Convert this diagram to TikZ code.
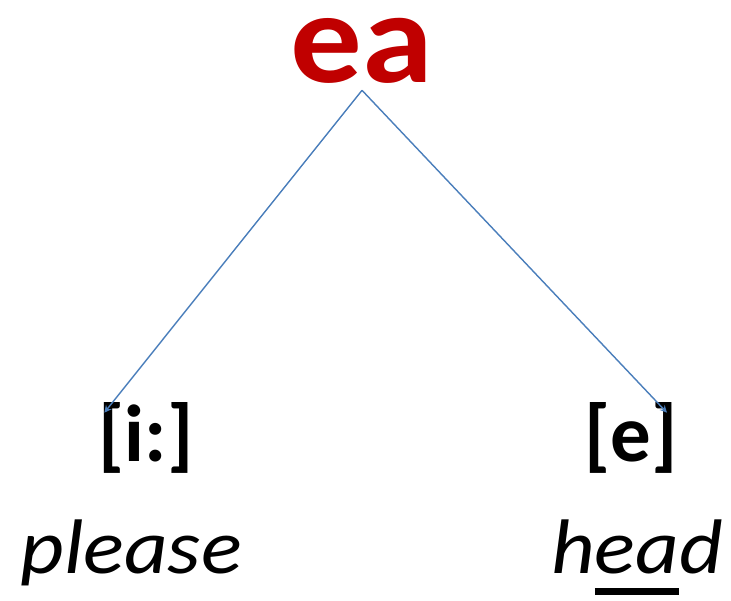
\documentclass[tikz,border=0pt]{standalone}
\usepackage{fontspec}
\setmainfont{Carlito}
\newfontfamily\widefont[FakeStretch=1.1]{Carlito}
\usepackage{tikz}
\definecolor{eared}{HTML}{C00000}
\definecolor{arrowblue}{HTML}{4A7EBB}
\newcommand{\thickul}[1]{\setbox0\hbox{#1}\rlap{\rule[-0.29em]{\wd0}{0.1em}}\box0}
\tikzset{
  sound/.style={inner sep=0pt, anchor=base, font=\fontsize{46}{50}\selectfont\bfseries},
  word/.style={inner sep=0pt, anchor=base, font=\widefont\fontsize{44}{48}\selectfont\itshape},
  branch/.style={draw=arrowblue, line width=0.8pt, -stealth}
}
\begin{document}
\begin{tikzpicture}
\useasboundingbox (0,0) rectangle (14.62,12);
\node [inner sep=0pt, anchor=base, text=eared, font=\widefont\fontsize{74}{78}\selectfont\bfseries] (ea) at (7.24,10.34) {ea};
\node [sound] (ii) at (2.92,2.78) {[i:]};
\node [sound] (ee) at (12.62,2.78) {[e]};
\node [word] (please) at (2.62,0.54) {please};
\node [word] (head) at (12.74,0.54) {h\thickul{ea}d};
\draw [branch] ([yshift=-1.2mm]ea.south) -- ([shift={(0.12,-0.22)}]ii.north west);
\draw [branch] ([yshift=-1.2mm]ea.south) -- ([shift={(-0.22,-0.22)}]ee.north east);
\end{tikzpicture}
\end{document}
